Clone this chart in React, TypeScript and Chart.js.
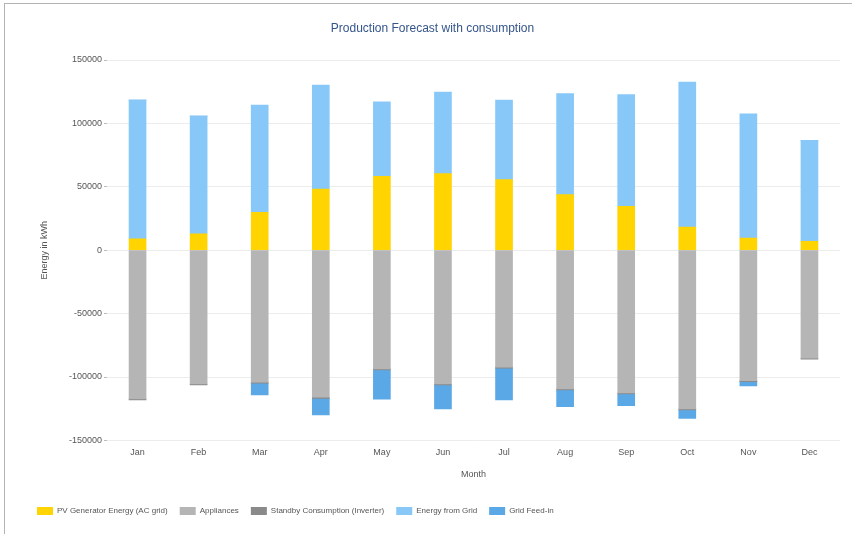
import React, { useEffect, useRef } from "react";
import { Chart, registerables } from "chart.js";

Chart.register(...registerables);

const months = ["Jan", "Feb", "Mar", "Apr", "May", "Jun", "Jul", "Aug", "Sep", "Oct", "Nov", "Dec"];
const pvGenerator = [9000, 13000, 29900, 48300, 58300, 60400, 55700, 43800, 34600, 18300, 9600, 7000];
const energyFromGrid = [109300, 92700, 84500, 81900, 58800, 64300, 62600, 79800, 88200, 114300, 98000, 79700];
const appliances = [-117300, -105500, -104100, -116000, -93600, -105500, -92200, -109400, -112600, -125200, -102800, -85200];
const standby = [-800, -800, -800, -800, -800, -800, -800, -800, -800, -800, -800, -800];
const gridFeedIn = [0, 0, -9300, -13200, -23100, -18900, -25100, -13200, -9200, -6600, -3400, 0];
const yTicks = [-150000, -100000, -50000, 0, 50000, 100000, 150000];

const FONT = "'Liberation Sans', Arial, sans-serif";

export default function App() {
  const ref = useRef<HTMLCanvasElement | null>(null);

  useEffect(() => {
    if (!ref.current) return;
    const chart = new Chart(ref.current, {
      type: "bar",
      data: {
        labels: months,
        datasets: [
          { label: "PV Generator Energy (AC grid)", data: pvGenerator, backgroundColor: "#FFD400", barThickness: 17 },
          { label: "Appliances", data: appliances, backgroundColor: "#B5B5B5", barThickness: 17 },
          { label: "Standby Consumption (Inverter)", data: standby, backgroundColor: "#8A8A8A", barThickness: 17 },
          { label: "Energy from Grid", data: energyFromGrid, backgroundColor: "#87C8F8", barThickness: 17 },
          { label: "Grid Feed-in", data: gridFeedIn, backgroundColor: "#5AA8E6", barThickness: 17 },
        ],
      },
      options: {
        responsive: false,
        animation: false,
        layout: { padding: { left: 25, right: 12, top: 0, bottom: 9 } },
        plugins: {
          title: {
            display: true,
            text: "Production Forecast with consumption",
            color: "#34558B",
            font: { family: FONT, size: 12, weight: "normal" },
            padding: { top: 21, bottom: 24.6 },
          },
          legend: {
            position: "bottom",
            align: "start",
            labels: {
              boxWidth: 16,
              boxHeight: 8,
              padding: 12,
              color: "#555",
              font: { family: FONT, size: 8 },
            },
          },
          tooltip: { enabled: false },
        },
        scales: {
          x: {
            stacked: true,
            grid: { display: false, drawTicks: false },
            border: { display: false },
            ticks: { padding: 7, color: "#555", font: { family: FONT, size: 9 } },
            title: {
              display: true,
              text: "Month",
              color: "#555",
              font: { family: FONT, size: 9 },
              padding: { top: 4, bottom: 15 },
            },
          },
          y: {
            stacked: true,
            min: -150000,
            max: 150000,
            afterFit: (s: any) => {
              s.width = 82;
            },
            afterBuildTicks: (s: any) => {
              s.ticks = yTicks.map((v) => ({ value: v }));
            },
            ticks: {
              padding: 2,
              color: "#555",
              font: { family: FONT, size: 9 },
              callback: (v: any) => String(v),
            },
            grid: { color: "#ECECEC", tickLength: 3, tickColor: "#BBBBBB" },
            border: { display: false },
            title: {
              display: true,
              text: "Energy in kWh",
              color: "#555",
              font: { family: FONT, size: 9 },
              padding: { top: 14.6, bottom: 0 },
            },
          },
        },
      },
    });
    return () => chart.destroy();
  }, []);

  return (
    <div style={{ position: "fixed", left: 0, top: 0, width: 852, height: 534, background: "#fff" }}>
      <div
        style={{
          position: "absolute",
          left: 4,
          top: 3,
          width: 848,
          height: 531,
          borderLeft: "1px solid #B4B4B4",
          borderTop: "1px solid #B4B4B4",
          boxSizing: "border-box",
        }}
      />
      <canvas ref={ref} width={852} height={534} style={{ position: "absolute", left: 0, top: 0, display: "block" }} />
    </div>
  );
}
